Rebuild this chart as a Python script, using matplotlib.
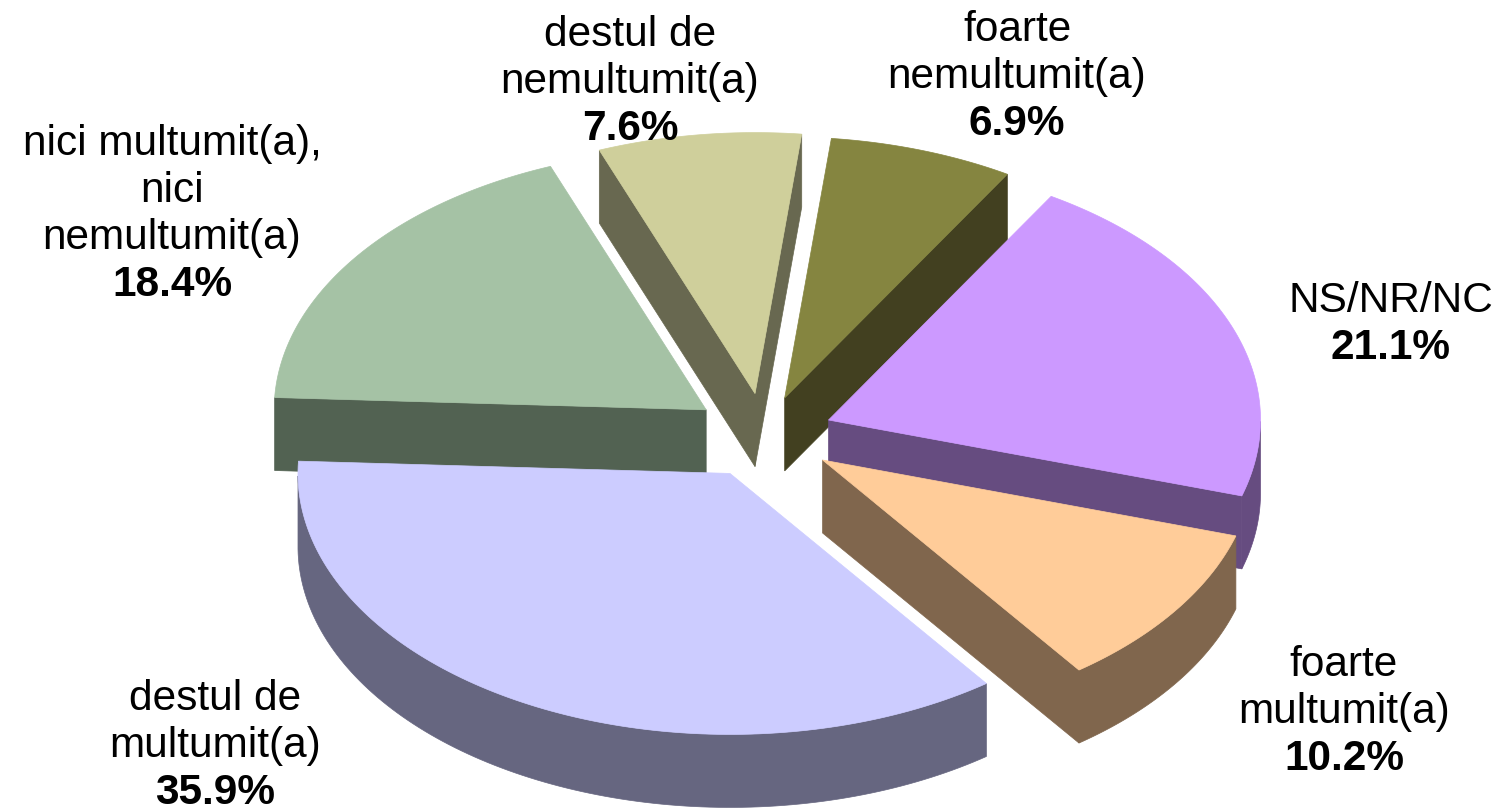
import numpy as np
import matplotlib
matplotlib.use('Agg')
import matplotlib.pyplot as plt
from matplotlib.patches import Polygon

# DATOS
categorias = ['destul de\nmultumit(a)', 'foarte\nmultumit(a)', 'NS/NR/NC',
              'foarte\nnemultumit(a)', 'destul de\nnemultumit(a)',
              'nici multumit(a),\nnici\nnemultumit(a)']
valores = [35.9, 10.2, 21.1, 6.9, 7.6, 18.4]
explode = [0.167, 0.166, 0.16, 0.15, 0.16, 0.165]
colores_top = ['#CCCCFF', '#FFCC99', '#CC99FF', '#858540', '#CFCF9B', '#A5C2A5']
colores_lado = ['#666680', '#80664D', '#664C80', '#424020', '#686850', '#526252']

# posicion del centro de cada etiqueta
pos_etiquetas = [(215, 746), (1344, 712), (1391, 324), (1017, 77), (630, 82), (172, 214)]

# geometria de la tarta, en pixeles
CX, CY = 764, 435
RX, RY = 432, 261
ALTO = 73
INICIO = 177.3
PASO = 47
orden = [4, 3, 5, 2, 1, 0]  # de atras hacia delante

plt.rcParams['font.family'] = ['Liberation Sans', 'DejaVu Sans']

fig = plt.figure(figsize=(14.97, 8.09), dpi=100)
ax = fig.add_axes([0, 0, 1, 1])
ax.set_xlim(0, 1497)
ax.set_ylim(809, 0)
ax.axis('off')


def punto(x0, y0, ang):
    return x0 + RX * np.cos(ang), y0 - RY * np.sin(ang)


def cara(pts, color, z):
    ax.add_patch(Polygon(pts, closed=True, fc=color, ec=color, lw=0.5, zorder=z))


bordes = INICIO + np.cumsum([0] + valores) * 360 / sum(valores)

for z, i in enumerate(orden):
    a0, a1 = np.radians(bordes[i]), np.radians(bordes[i + 1])
    medio = (a0 + a1) / 2
    x0 = CX + explode[i] * RX * np.cos(medio)
    y0 = CY - explode[i] * RY * np.sin(medio)
    angs = np.linspace(a0, a1, 120)
    xs, ys = punto(x0, y0, angs)

    # paredes rectas, solo las que miran al espectador
    if np.cos(a0) > 0:
        cara([(x0, y0), (xs[0], ys[0]), (xs[0], ys[0] + ALTO), (x0, y0 + ALTO)], colores_lado[i], z * 10)
    if np.cos(a1) < 0:
        cara([(x0, y0), (xs[-1], ys[-1]), (xs[-1], ys[-1] + ALTO), (x0, y0 + ALTO)], colores_lado[i], z * 10)

    # borde exterior
    frente = np.sin(angs) < 0
    if frente.any():
        xf, yf = xs[frente], ys[frente]
        pts = np.column_stack([np.r_[xf, xf[::-1]], np.r_[yf, yf[::-1] + ALTO]])
        cara(pts, colores_lado[i], z * 10 + 1)

    # cara superior
    cara(np.column_stack([np.r_[x0, xs], np.r_[y0, ys]]), colores_top[i], z * 10 + 2)

# ETIQUETAS
for cat, val, (x, y) in zip(categorias, valores, pos_etiquetas):
    lineas = cat.split('\n')
    n = len(lineas) + 1
    for k, txt in enumerate(lineas):
        ax.text(x, y + (k - (n - 1) / 2) * PASO, txt, ha='center', va='center',
                fontsize=30.5, color='black', zorder=100)
    ax.text(x, y + (n - 1) / 2 * PASO, f'{val:.1f}%', ha='center', va='center',
            fontsize=30.5, fontweight='bold', color='black', zorder=100)

fig.savefig('out.png', dpi=100, facecolor='white')
